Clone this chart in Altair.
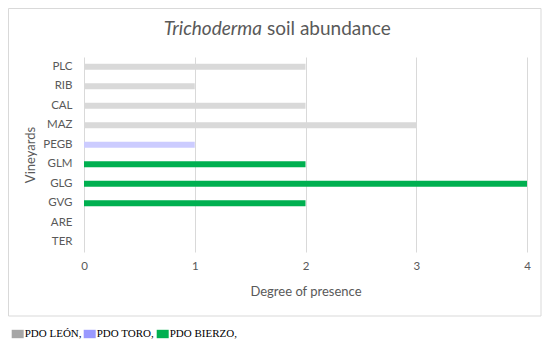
import altair as alt
import pandas as pd

# ---- data ----
vineyards = ["PLC", "RIB", "CAL", "MAZ", "PEGB", "GLM", "GLG", "GVG", "ARE", "TER"]
presence = [2, 1, 2, 3, 1, 2, 4, 2, 0, 0]
pdo = ["PDO LEÓN", "PDO LEÓN", "PDO LEÓN", "PDO LEÓN", "PDO TORO",
       "PDO BIERZO", "PDO BIERZO", "PDO BIERZO", "PDO LEÓN", "PDO LEÓN"]
pdo_names = ["PDO LEÓN", "PDO TORO", "PDO BIERZO"]
legend_labels = ["PDO LEÓN,", "PDO TORO,", "PDO BIERZO,"]
bar_colors = ["#d9d9d9", "#ccccff", "#00b050"]
legend_colors = ["#a6a6a6", "#9999ff", "#00b050"]
x_ticks = [0, 1, 2, 3, 4]
title_italic = "Trichoderma"
title_rest = "soil abundance"

df = pd.DataFrame({"vineyard": vineyards, "presence": presence, "pdo": pdo})
legend_df = pd.DataFrame({"label": legend_labels})

FONT = "Lato"
GREY_TXT = "#595959"

bars = alt.Chart(df).mark_bar(size=6).encode(
    x=alt.X("presence:Q",
            scale=alt.Scale(domain=[0, 4], nice=False),
            axis=alt.Axis(values=x_ticks, format="d", title="Degree of presence",
                          grid=True, gridColor="#d9d9d9", domain=False, ticks=False,
                          labelFlush=False,
                          labelPadding=8, titlePadding=14, labelFontSize=11.5,
                          titleFontSize=13)),
    y=alt.Y("vineyard:N", sort=vineyards,
            scale=alt.Scale(paddingInner=0, paddingOuter=0),
            axis=alt.Axis(title="Vineyards", domain=False, ticks=False, grid=False,
                          labelPadding=12, titlePadding=5, labelFontSize=11.5,
                          titleFontSize=13)),
    color=alt.Color("pdo:N", scale=alt.Scale(domain=pdo_names, range=bar_colors),
                    legend=None),
)

legend_layer = alt.Chart(legend_df).mark_square().encode(
    color=alt.Color("label:N",
                    scale=alt.Scale(domain=legend_labels, range=legend_colors),
                    legend=alt.Legend(
                        title=None, orient="none", direction="horizontal",
                        legendX=-72.3, legendY=271,
                        symbolType="M-1,-0.7H1V0.7H-1Z", symbolSize=144,
                        symbolStrokeWidth=0, symbolOpacity=1,
                        labelFont="Liberation Serif", labelFontSize=11,
                        labelColor="#000000", labelOffset=1, columnPadding=2,
                    )),
).transform_filter("datum.label == 'none'")

border = alt.Chart(pd.DataFrame({"k": [0]})).mark_rect(
    filled=False, stroke="#d9d9d9", strokeWidth=1
).encode(x=alt.value(-75.5), x2=alt.value(457), y=alt.value(-48.5), y2=alt.value(259))

t1 = alt.Chart(pd.DataFrame({"t": [title_italic]})).mark_text(
    align="right", baseline="alphabetic", font=FONT, fontSize=19,
    fontStyle="italic", color=GREY_TXT
).encode(x=alt.value(178), y=alt.value(-22), text="t:N")

t2 = alt.Chart(pd.DataFrame({"t": [title_rest]})).mark_text(
    align="left", baseline="alphabetic", font=FONT, fontSize=19, color=GREY_TXT
).encode(x=alt.value(183), y=alt.value(-22), text="t:N")

chart = alt.layer(border, bars, legend_layer, t1, t2).resolve_scale(
    color="independent"
).properties(
    width=443, height=195,
    autosize=alt.AutoSizeParams(type="none"),
    padding={"left": 76, "top": 49, "right": 15, "bottom": 88},
).configure_view(stroke=None).configure_axis(
    labelFont=FONT, titleFont=FONT, labelColor=GREY_TXT, titleColor=GREY_TXT,
    titleFontWeight="normal"
)

chart.save("out.html", embed_options={"renderer": "svg", "actions": False})
